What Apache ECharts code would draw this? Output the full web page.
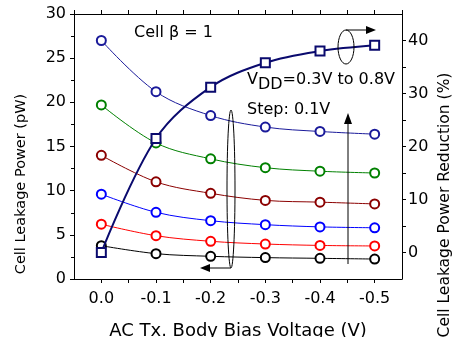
<!DOCTYPE html>
<html>
<head>
<meta charset="utf-8">
<script src="https://cdn.jsdelivr.net/npm/echarts@6/dist/echarts.min.js"></script>
<style>
  html, body { margin: 0; padding: 0; background: #fff; }
  #chart { width: 456px; height: 337px; }
</style>
</head>
<body>
<div id="chart"></div>
<script>
// body bias voltage (V)
var biasVoltage = [0.0, -0.1, -0.2, -0.3, -0.4, -0.5]

// cell leakage power (pW), VDD = 0.8V down to 0.3V
var leak08 = [27.0, 21.2, 18.5, 17.2, 16.7, 16.4]
var leak07 = [19.7, 15.4, 13.6, 12.6, 12.2, 12.0]
var leak06 = [14.0, 11.0, 9.7, 8.9, 8.7, 8.5]
var leak05 = [9.6, 7.55, 6.6, 6.15, 5.9, 5.8]
var leak04 = [6.2, 4.9, 4.27, 3.96, 3.8, 3.74]
var leak03 = [3.77, 2.87, 2.57, 2.42, 2.34, 2.26]

// leakage power reduction (%)
var reduction = [0.0, 21.5, 31.2, 35.8, 38.0, 39.1]

var leakSeries = [
  { data: leak08, color: '#1a1a9a' },
  { data: leak07, color: '#008000' },
  { data: leak06, color: '#8b0000' },
  { data: leak05, color: '#0000ff' },
  { data: leak04, color: '#ff0000' },
  { data: leak03, color: '#000000' }
]

function pairs(vals) {
  return biasVoltage.map(function (x, i) { return [x, vals[i]] })
}

var FONT = '"DejaVu Sans", sans-serif'

function isTenth(v) {
  return Math.abs(Math.round(v * 10) - v * 10) < 1e-6
}

var chart = echarts.init(document.getElementById('chart'))

var series = leakSeries.map(function (s) {
  return {
    type: 'line',
    xAxisIndex: 0,
    yAxisIndex: 0,
    data: pairs(s.data),
    smooth: 0.35,
    symbol: 'emptyCircle',
    symbolSize: 9,
    lineStyle: { color: s.color, width: 1 },
    itemStyle: { color: s.color, borderColor: s.color, borderWidth: 1.2 },
    z: 3
  }
})

series.push({
  type: 'line',
  xAxisIndex: 0,
  yAxisIndex: 1,
  data: pairs(reduction),
  smooth: 0.35,
  symbol: 'emptyRect',
  symbolSize: 9,
  lineStyle: { color: '#0a0a6e', width: 2 },
  itemStyle: { color: '#0a0a6e', borderColor: '#0a0a6e', borderWidth: 1.5 },
  z: 4
})

var axisCommon = {
  axisLine: { show: true, onZero: false, lineStyle: { color: '#000', width: 1 } },
  axisTick: { show: true, inside: false, length: 4, lineStyle: { color: '#000' } },
  splitLine: { show: false }
}

chart.setOption({
  animation: false,
  grid: { left: 74, right: 54, top: 14, bottom: 58, containLabel: false },
  xAxis: [
    Object.assign({}, axisCommon, {
      type: 'value',
      position: 'bottom',
      inverse: true,
      min: -0.55,
      max: 0.05,
      interval: 0.05,
      axisLabel: {
        fontFamily: FONT, fontSize: 16, color: '#000', margin: 12,
        showMinLabel: false, showMaxLabel: false,
        formatter: function (v) { return isTenth(v) ? v.toFixed(1) : '' }
      }
    }),
    Object.assign({}, axisCommon, {
      type: 'value',
      position: 'top',
      inverse: true,
      min: -0.55,
      max: 0.05,
      interval: 0.05,
      axisLabel: { show: false }
    })
  ],
  yAxis: [
    Object.assign({}, axisCommon, {
      type: 'value',
      position: 'left',
      min: 0,
      max: 30,
      interval: 5,
      minorTick: { show: true, splitNumber: 2, length: 3, lineStyle: { color: '#000' } },
      axisLabel: { fontFamily: FONT, fontSize: 16, color: '#000', margin: 8 }
    }),
    Object.assign({}, axisCommon, {
      type: 'value',
      position: 'right',
      min: -5,
      max: 45,
      interval: 5,
      axisLabel: {
        fontFamily: FONT, fontSize: 16, color: '#000', margin: 6,
        showMinLabel: false, showMaxLabel: false,
        formatter: function (v) { return Math.round(v) % 10 === 0 ? String(Math.round(v)) : '' }
      }
    })
  ],
  graphic: [
    // axis titles
    {
      type: 'text', x: 21, y: 184, rotation: Math.PI / 2,
      style: { text: 'Cell Leakage Power (pW)', font: '14.5px ' + FONT, fill: '#000', align: 'center', verticalAlign: 'middle' }
    },
    {
      type: 'text', x: 445, y: 205, rotation: Math.PI / 2,
      style: { text: 'Cell Leakage Power Reduction (%)', font: '15.5px ' + FONT, fill: '#000', align: 'center', verticalAlign: 'middle' }
    },
    {
      type: 'text', x: 238, y: 331,
      style: { text: 'AC Tx. Body Bias Voltage (V)', font: '18px ' + FONT, fill: '#000', align: 'center', verticalAlign: 'middle' }
    },
    // annotations
    { type: 'text', left: 134, top: 25, style: { text: 'Cell β = 1', font: '16px ' + FONT, fill: '#000' } },
    {
      type: 'text', left: 247, top: 72,
      style: {
        text: '{v|V}{s|DD}{v|=0.3V to 0.8V}',
        rich: {
          v: { font: '16px ' + FONT, fill: '#000' },
          s: { font: '16px ' + FONT, fill: '#000', padding: [9, 0, 0, 0] }
        }
      }
    },
    { type: 'text', left: 247, top: 102, style: { text: 'Step: 0.1V', font: '16px ' + FONT, fill: '#000' } },
    // ellipse around reduction curves + arrow to the right axis
    { type: 'ellipse', shape: { cx: 346, cy: 47, rx: 8, ry: 17 }, style: { fill: 'none', stroke: '#000', lineWidth: 1 }, z: 10 },
    { type: 'polyline', shape: { points: [[346, 30], [368, 30]] }, style: { stroke: '#000', lineWidth: 1 }, z: 10 },
    { type: 'polygon', shape: { points: [[376, 30], [366, 26], [366, 34]] }, style: { fill: '#000' }, z: 10 },
    // ellipse around leakage curves + arrow to the left axis
    { type: 'ellipse', shape: { cx: 231, cy: 189, rx: 4, ry: 79 }, style: { fill: 'none', stroke: '#000', lineWidth: 1 }, z: 10 },
    { type: 'polyline', shape: { points: [[231, 268], [208, 268]] }, style: { stroke: '#000', lineWidth: 1 }, z: 10 },
    { type: 'polygon', shape: { points: [[200, 268], [210, 264], [210, 272]] }, style: { fill: '#000' }, z: 10 },
    // VDD step arrow
    { type: 'polyline', shape: { points: [[348, 264], [348, 121]] }, style: { stroke: '#000', lineWidth: 1 }, z: 10 },
    { type: 'polygon', shape: { points: [[348, 113], [344, 124], [352, 124]] }, style: { fill: '#000' }, z: 10 }
  ],
  series: series
})
</script>
</body>
</html>
